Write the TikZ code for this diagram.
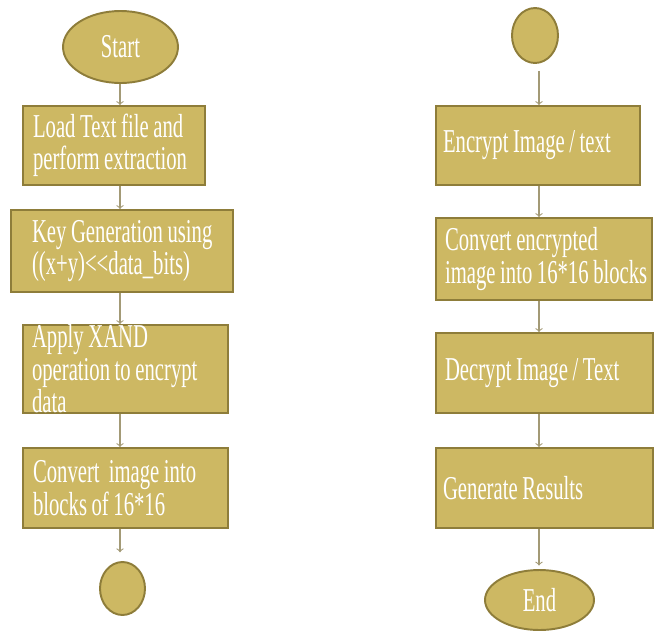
\documentclass[tikz,border=0pt]{standalone}
\usepackage{fontspec}
\setmainfont{Liberation Serif}[FakeStretch=0.62]
\usepackage{tikz}
\usetikzlibrary{shapes,arrows,positioning,calc}
\definecolor{boxfill}{HTML}{CDB863}
\definecolor{boxline}{HTML}{8E7D3A}
\definecolor{flowline}{HTML}{A39A76}
\tikzset{
	block/.style = {
		draw=boxline, 
		fill=boxfill, 
		rectangle, 
		line width=1.1pt, 
		align=left,
		inner xsep=0pt,
		inner ysep=-6pt,
		text=white,
		font=\fontsize{19}{18.5}\selectfont,
		execute at begin node={\spaceskip=2.6pt\relax}
	},
	terminal/.style = {
		draw=boxline, 
		fill=boxfill, 
		ellipse, 
		line width=1.1pt, 
		inner sep=0pt,
		text=white,
		font=\fontsize{19}{18.5}\selectfont
	},
	flow/.style = {
		->, 
		>=to, 
		draw=flowline,
		line width=0.6pt
	}
}

\begin{document}
\begin{tikzpicture}[x=0.02cm,y=-0.02cm]
		
		% --- marco de la imagen ---
		\useasboundingbox (0,0) rectangle (657,630);
		
		% --- columna izquierda ---
		\coordinate (lcol) at (120,0);
		\node [terminal, minimum width=2.3cm, minimum height=1.44cm] (start) at (120.5,47) {Start};
		\node [block, minimum width=3.64cm, minimum height=1.58cm, text width=3.24cm] (load) at (114,145.5) {\mbox{Load Text file and}\\\mbox{perform extraction}};
		\node [block, minimum width=4.44cm, minimum height=1.64cm, text width=3.6cm] (keygen) at (122,251) {\mbox{Key Generation using}\\\mbox{((x+y)<\kern0pt<data\_bits)}};
		\node [block, minimum width=4.1cm, minimum height=1.76cm, text width=3.74cm] (xand) at (125.5,369) {Apply XAND\\\mbox{operation to encrypt}\\data};
		\node [block, minimum width=4.1cm, minimum height=1.6cm, text width=3.7cm] (blocks) at (125.5,488) {\mbox{Convert\ \ image into}\\\mbox{blocks of 16*16}};
		\node [terminal, minimum width=0.9cm, minimum height=1.06cm] (joinl) at (122.5,588.5) {};
		
		% --- columna derecha ---
		\coordinate (rcol) at (539,0);
		\node [terminal, minimum width=0.92cm, minimum height=1.1cm] (joinr) at (535,35.5) {};
		\node [block, minimum width=4.08cm, minimum height=1.58cm, text width=3.8cm] (encrypt) at (538,145.5) {\mbox{Encrypt Image / text}};
		\node [block, minimum width=4.32cm, minimum height=1.64cm, text width=3.96cm] (convert) at (544,259) {\mbox{Convert encrypted}\\\mbox{image into 16*16 blocks}};
		\node [block, minimum width=4.34cm, minimum height=1.6cm, text width=3.98cm] (decrypt) at (544.5,373) {\mbox{Decrypt Image / Text}};
		\node [block, minimum width=4.34cm, minimum height=1.6cm, text width=4.06cm] (results) at (544.5,488) {\mbox{Generate Results}};
		\node [terminal, minimum width=2.18cm, minimum height=1.2cm] (end) at (539.5,600) {End};
		
		% --- flechas ---
		\draw [flow] (start.south -| lcol) -- (load.north -| lcol);
		\draw [flow] (load.south -| lcol) -- (keygen.north -| lcol);
		\draw [flow] (keygen.south -| lcol) -- (xand.north -| lcol);
		\draw [flow] (xand.south -| lcol) -- (blocks.north -| lcol);
		\draw [flow, shorten >=5pt] (blocks.south -| lcol) -- (joinl.north -| lcol);
		
		\draw [flow, shorten <=4pt] (joinr.south -| rcol) -- (encrypt.north -| rcol);
		\draw [flow] (encrypt.south -| rcol) -- (convert.north -| rcol);
		\draw [flow] (convert.south -| rcol) -- (decrypt.north -| rcol);
		\draw [flow] (decrypt.south -| rcol) -- (results.north -| rcol);
		\draw [flow, shorten >=2pt] (results.south -| rcol) -- (end.north -| rcol);
		
	\end{tikzpicture}
\end{document}
